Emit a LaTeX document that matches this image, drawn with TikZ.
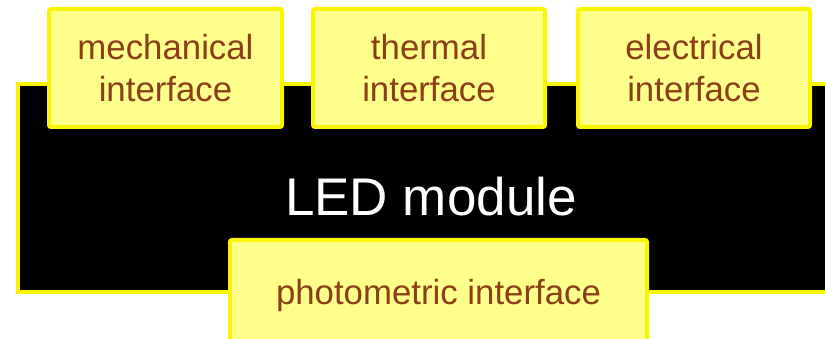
\documentclass[tikz,border=0pt]{standalone}
\usepackage{fontspec}
\setmainfont{Liberation Sans}
\definecolor{boxfill}{RGB}{255,255,140}
\definecolor{boxline}{RGB}{250,245,0}
\definecolor{boxtext}{RGB}{140,62,22}
\begin{document}
\begin{tikzpicture}[x=1pt,y=1pt,
  iface/.style={draw=boxline, line width=4pt, fill=boxfill, rounded corners=2pt,
    text=boxtext, align=center, inner sep=0pt,
    font=\fontsize{34.8}{42}\selectfont},
  module/.style={draw=boxline, line width=4pt, fill=black, inner sep=0pt},
  modlabel/.style={text=white, font=\fontsize{53}{60}\selectfont}]
\useasboundingbox (0,0) rectangle (825,339);
\node[module, minimum width=815pt, minimum height=208pt] (led) at (425,151) {};
\node[modlabel] (ledlabel) at (431,142) {LED module};
\node[iface, minimum width=233pt, minimum height=118pt] (mech) at (165.5,271) {mechanical\\interface};
\node[iface, minimum width=232pt, minimum height=118pt] (therm) at (429,271) {thermal\\interface};
\node[iface, minimum width=232pt, minimum height=118pt] (elec) at (694,271) {electrical\\interface};
\node[iface, minimum width=417pt, minimum height=112pt] (photo) at (438.5,43) {photometric interface};
\end{tikzpicture}
\end{document}
